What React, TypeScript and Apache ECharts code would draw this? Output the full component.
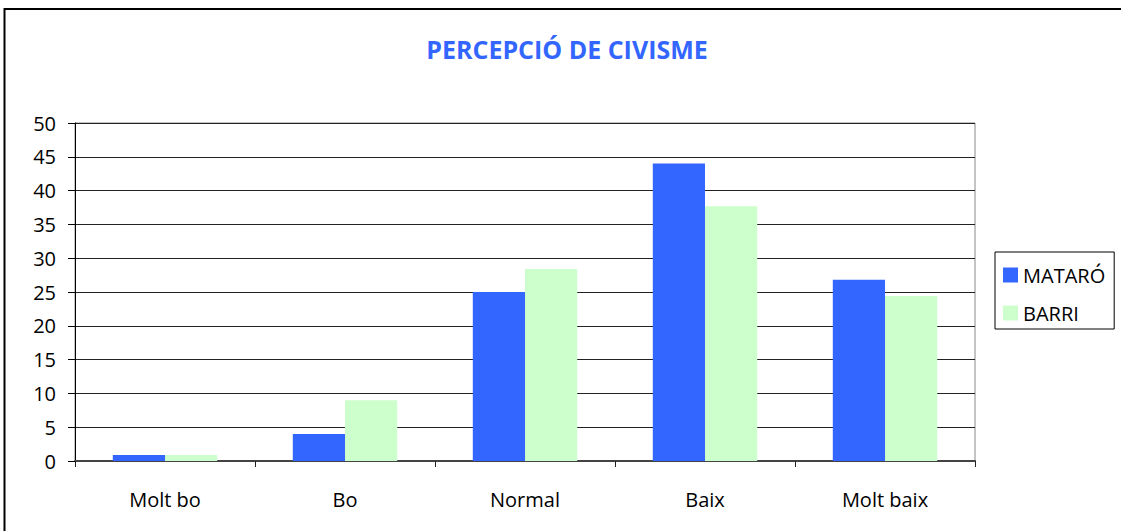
import React, { useEffect, useRef } from "react";
import * as echarts from "echarts";

const categories = ["Molt bo", "Bo", "Normal", "Baix", "Molt baix"];
const mataro = [0.9, 4.0, 25.0, 44.0, 26.8];
const barri = [0.9, 9.0, 28.4, 37.7, 24.4];
const seriesNames = ["MATARÓ", "BARRI"];
const titleText = "PERCEPCIÓ DE CIVISME";

const FONT = "'Open Sans', sans-serif";

export default function App() {
  const ref = useRef<HTMLDivElement>(null);
  useEffect(() => {
    if (!ref.current) return;
    const chart = echarts.init(ref.current, null, { renderer: "svg" });
    chart.setOption({
      animation: false,
      backgroundColor: "#ffffff",
      title: {
        text: titleText,
        left: 562,
        textAlign: "center",
        top: 31,
        textStyle: { color: "#3366FF", fontSize: 25, fontWeight: "bold", fontFamily: FONT },
      },
      graphic: [
        {
          type: "rect",
          shape: { x: 4.5, y: 9, width: 1130, height: 540 },
          style: { fill: "none", stroke: "#000", lineWidth: 2 },
          silent: true,
        },
      ],
      legend: {
        orient: "vertical",
        left: 995,
        top: 252,
        padding: [13, 9, 6, 8],
        itemGap: 18,
        itemWidth: 15,
        itemHeight: 15,
        borderColor: "#000",
        borderWidth: 1,
        icon: "rect",
        textStyle: { fontSize: 20, color: "#000", fontFamily: FONT },
        data: seriesNames,
      },
      grid: {
        left: 75,
        right: 146,
        top: 123,
        bottom: 70,
        show: true,
        borderColor: "#888",
        borderWidth: 1,
      },
      xAxis: {
        type: "category",
        data: categories,
        axisLine: { lineStyle: { color: "#444", width: 2 } },
        axisTick: { show: true, length: 6, lineStyle: { color: "#222" } },
        axisLabel: { color: "#000", fontSize: 20, margin: 28, fontFamily: FONT },
      },
      yAxis: {
        type: "value",
        min: 0,
        max: 50,
        interval: 5,
        axisLine: { show: true, lineStyle: { color: "#000", width: 1 } },
        axisTick: { show: true, length: 7, lineStyle: { color: "#000" } },
        axisLabel: { color: "#000", fontSize: 20, margin: 19, fontFamily: FONT },
        splitLine: { show: true, lineStyle: { color: "#222", width: 1 } },
      },
      series: [
        {
          name: seriesNames[0],
          type: "bar",
          data: mataro,
          itemStyle: { color: "#3366FF" },
          barGap: "0%",
          barCategoryGap: "42%",
        },
        {
          name: seriesNames[1],
          type: "bar",
          data: barri,
          itemStyle: { color: "#CCFFCC" },
          barGap: "0%",
          barCategoryGap: "42%",
        },
      ],
    });
    return () => chart.dispose();
  }, []);
  return (
    <div
      ref={ref}
      style={{ position: "absolute", left: 0, top: 0, width: 1121, height: 531 }}
    />
  );
}
